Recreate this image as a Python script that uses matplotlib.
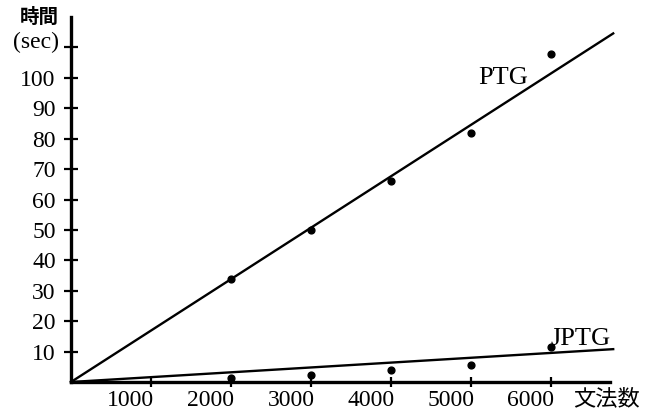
import matplotlib.pyplot as plt
import matplotlib.transforms as mtransforms

# grammar count vs. processing time
grammars = [2000, 3000, 4000, 5000, 6000]
ptg_times = [34, 50, 66, 82, 108]
jptg_times = [1.3, 2.3, 3.9, 5.6, 11.5]

# fitted lines (start / end)
fit_x = [0, 6780]
ptg_fit = [0, 114.6]
jptg_fit = [0, 10.8]

x_ticks = [1000, 2000, 3000, 4000, 5000, 6000]
y_ticks = [10, 20, 30, 40, 50, 60, 70, 80, 90, 100, 110]
y_labels = ['10', '20', '30', '40', '50', '60', '70', '80', '90', '100', '']

serif = 'Liberation Serif'
jp = ['Noto Sans CJK JP', 'DejaVu Sans']

fig = plt.figure(figsize=(6.5, 4.17), dpi=100)
ax = fig.add_axes([71 / 650, 1 - 382 / 417, 539 / 650, 365 / 417])
ax.set_xlim(0, 6740)
ax.set_ylim(0, 120)

ax.plot(fit_x, ptg_fit, color='black', lw=1.7, clip_on=False)
ax.plot(fit_x, jptg_fit, color='black', lw=1.7, clip_on=False)
ax.scatter(grammars, ptg_times, s=24, color='black', zorder=3)
ax.scatter(grammars, jptg_times, s=24, color='black', zorder=3)

for side in ['top', 'right']:
    ax.spines[side].set_visible(False)
for side in ['left', 'bottom']:
    ax.spines[side].set_linewidth(2.4)

ax.set_xticks(x_ticks)
ax.set_xticklabels([str(v) for v in x_ticks], fontfamily=serif, fontsize=17)
ax.set_yticks(y_ticks)
ax.set_yticklabels(y_labels, fontfamily=serif, fontsize=17)
ax.tick_params(axis='x', direction='inout', length=7, width=1.6, pad=2)
ax.tick_params(axis='y', direction='inout', length=10, width=1.6, pad=6)

# x labels sit left of their ticks in the original
offset = mtransforms.ScaledTranslation(-20 / 100, 0, fig.dpi_scale_trans)
for lbl in ax.get_xticklabels():
    lbl.set_transform(lbl.get_transform() + offset)

ax.text(5090, 100, 'PTG', fontfamily=serif, fontsize=19,
        ha='left', va='center')
ax.text(5990, 14.3, 'JPTG', fontfamily=serif, fontsize=19,
        ha='left', va='center')

fig.text(39 / 650, 1 - 17 / 417, '時間', family=jp, fontsize=14,
         fontweight='bold', ha='center', va='center')
fig.text(36 / 650, 1 - 42 / 417, '(sec)', fontfamily=serif, fontsize=17,
         ha='center', va='center')
fig.text(606 / 650, 1 - 399 / 417, '文法数', family=jp, fontsize=16,
         ha='center', va='center')

fig.savefig('out.png', dpi=100)
